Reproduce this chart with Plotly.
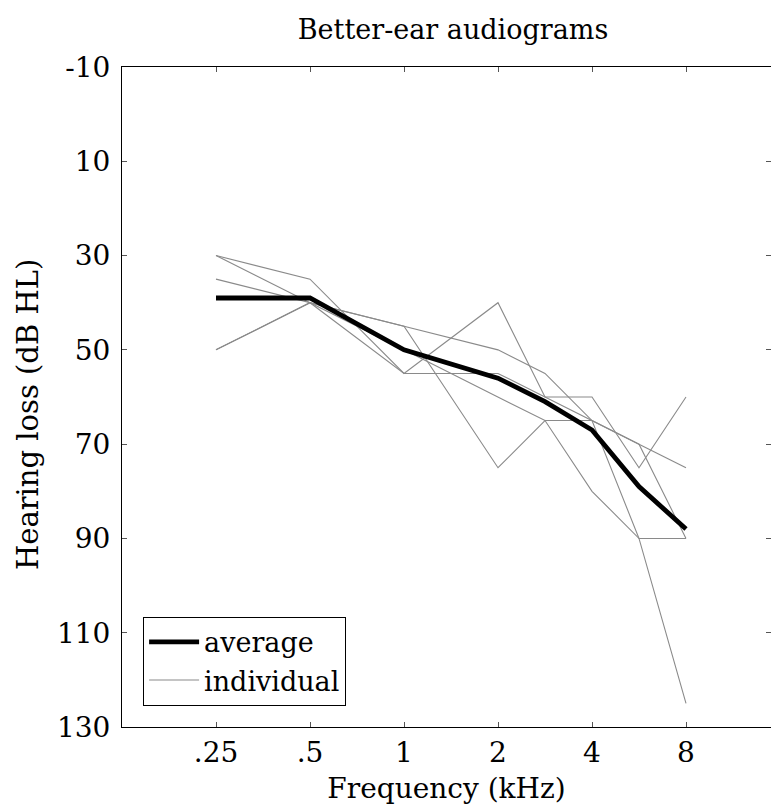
import plotly.graph_objects as go

# Frequencies (kHz) and their octave positions on the x axis
freq_labels = [".25", ".5", "1", "2", "3", "4", "6", "8"]
octave_pos = [-2, -1, 0, 1, 1.5, 2, 2.5, 3]

tick_pos = [-2, -1, 0, 1, 2, 3]
tick_text = [".25", ".5", "1", "2", "4", "8"]

# Individual better-ear audiograms (dB HL)
ind_1 = [30, 35, 55, 40, 60, 60, 75, 60]
ind_2 = [30, 40, 45, 50, 55, 65, 70, 75]
ind_3 = [35, 40, 45, 75, 65, 80, 90, 125]
ind_4 = [50, 40, 55, 55, 60, 65, 70, 90]
ind_5 = [50, 40, 50, 60, 65, 65, 90, 90]
individuals = [ind_1, ind_2, ind_3, ind_4, ind_5]

# Average audiogram (dB HL)
average = [39, 39, 50, 56, 61, 67, 79, 88]

y_ticks = [-10, 10, 30, 50, 70, 90, 110, 130]
y_tick_text = ["-10", "10", "30", "50", "70", "90", "110", "130"]

FONT = "DejaVu Serif"

fig = go.Figure()

for i, vals in enumerate(individuals):
    fig.add_trace(go.Scatter(
        x=octave_pos, y=vals, mode="lines",
        line=dict(color="#8a8a8a", width=1.1),
        name="individual", legendgroup="individual",
        showlegend=(i == 0), legendrank=2,
        customdata=freq_labels,
    ))

fig.add_trace(go.Scatter(
    x=octave_pos, y=average, mode="lines",
    line=dict(color="black", width=4.8),
    name="average", legendrank=1,
    customdata=freq_labels,
))

# empty trace so the right-hand tick axis is drawn
fig.add_trace(go.Scatter(x=[], y=[], yaxis="y2", showlegend=False, hoverinfo="skip"))

fig.update_layout(
    width=771, height=808,
    margin=dict(l=122, r=0, t=67, b=81),
    paper_bgcolor="white", plot_bgcolor="white",
    font=dict(family=FONT, size=27, color="black"),
    title=dict(text="Better-ear audiograms", x=0.51, xref="paper", xanchor="center",
               y=1, yref="paper", yanchor="bottom", pad=dict(b=28),
               font=dict(family=FONT, size=27, color="black")),
    showlegend=True,
    legend=dict(x=0.0325, y=0.032, xanchor="left", yanchor="bottom",
                bgcolor="white", bordercolor="black", borderwidth=1,
                font=dict(family=FONT, size=27, color="black"),
                tracegroupgap=0, itemwidth=50),
    annotations=[dict(
        text="Hearing loss (dB HL)", textangle=-90,
        xref="paper", yref="paper", x=-0.145, y=0.474,
        xanchor="center", yanchor="middle", showarrow=False,
        font=dict(family=FONT, size=29, color="black"),
    )],
    yaxis2=dict(
        overlaying="y", side="right", anchor="x", range=[130, -10],
        tickmode="array", tickvals=y_ticks, ticks="inside", ticklen=5,
        tickcolor="#555", tickwidth=1, showticklabels=False,
        showline=False, showgrid=False, zeroline=False,
    ),
)

fig.update_xaxes(
    range=[-3, -3 + 649 / 94], tickmode="array", tickvals=tick_pos, ticktext=tick_text,
    ticks="inside", ticklen=5, tickcolor="#555", tickwidth=1,
    showline=True, linecolor="black", linewidth=1, mirror="ticks",
    showgrid=False, zeroline=False,
    tickfont=dict(family=FONT, size=28),
    title=dict(text="Frequency (kHz)", standoff=10, font=dict(family=FONT, size=28)),
)
fig.layout.yaxis.update(
    range=[130, -10], tickmode="array", tickvals=y_ticks, ticktext=y_tick_text,
    ticks="inside", ticklen=5, tickcolor="#555", tickwidth=1,
    showline=True, linecolor="black", linewidth=1, mirror=False,
    showgrid=False, zeroline=False, ticklabelstandoff=5,
    tickfont=dict(family=FONT, size=28),
)

fig.write_html(
    "out.html",
    config={"displayModeBar": False, "responsive": False},
    post_script="document.body.style.margin='0';document.body.style.overflow='hidden';",
)
